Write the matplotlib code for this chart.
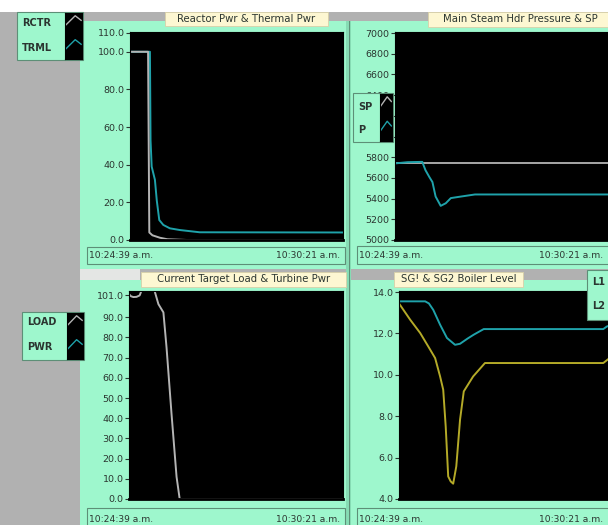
import numpy as np
import matplotlib.pyplot as plt
from matplotlib.patches import Rectangle

W, H = 608, 525

# time axis: seconds since 10:24:39 (span to 10:30:21)
t_labels = ['10:24:39 a.m.', '10:30:21 a.m.']
t_span = 342

# Reactor Pwr & Thermal Pwr (%)
rctr_t = [0, 29, 31, 36, 48, 60, 92, 342]
rctr_v = [100, 100, 4, 2.5, 1.2, 0.4, 0, 0]
trml_t = [0, 32, 33, 34.8, 40, 43, 47, 53.5, 64, 80, 112, 342]
trml_v = [100, 100, 53, 39, 32, 21, 10.6, 8, 6.2, 5.3, 4.1, 4.0]

# Main Steam Hdr Pressure & SP
sp_t = [0, 342]
sp_v = [5740, 5740]
p_t = [0, 20, 43, 48, 54, 59, 64, 72, 80, 88, 104, 126, 342]
p_v = [5740, 5752, 5755, 5675, 5610, 5560, 5420, 5330, 5355, 5405, 5420, 5440, 5440]

# Current Target Load & Turbine Pwr
load_t = [0, 3, 7, 12, 17, 21, 40, 47, 55, 60, 68, 76, 81, 342]
load_v = [101.5, 100.4, 100, 100.1, 100.8, 104, 104, 96.5, 92.4, 75, 42, 11, 0, 0]

# SG1 & SG2 Boiler Level
l1_t = [0, 42, 48, 55, 66, 77, 90, 98, 110, 120, 136, 328, 334, 342]
l1_v = [13.55, 13.55, 13.45, 13.14, 12.42, 11.78, 11.45, 11.5, 11.75, 11.94, 12.21, 12.21, 12.34, 12.4]
l2_t = [0, 18, 34, 47, 58, 66, 71, 75, 79, 83, 87, 92, 98, 104, 119, 138, 328, 342]
l2_v = [13.45, 12.66, 12.02, 11.37, 10.81, 9.92, 9.28, 7.5, 5.09, 4.85, 4.74, 5.58, 7.83, 9.2, 9.92,
        10.57, 10.57, 10.9]

MINT = '#9ef7cd'
GRAY = '#b1b1b1'
EDGE = '#5d8f77'
TXT = '#2b3530'
C_GRAY = '#b4b4b4'
C_CYAN = '#1fa2aa'
C_YEL = '#b4aa28'
TITLE_BG = '#fdf7d2'

fig = plt.figure(figsize=(W / 100, H / 100), dpi=100, facecolor=GRAY)


def box(x0, y0, x1, y1):
    return [x0 / W, 1 - y1 / H, (x1 - x0) / W, (y1 - y0) / H]


def rect(x0, y0, x1, y1, fc, ec='none', lw=0, z=-1):
    l, b, w, h = box(x0, y0, x1, y1)
    fig.add_artist(Rectangle((l, b), w, h, facecolor=fc, edgecolor=ec, linewidth=lw, zorder=z))


def text(x, y, s, size=7, ha='left', z=10, **kw):
    fig.text(x / W, 1 - y / H, s, fontsize=size, ha=ha, va='center', color=TXT, zorder=z, **kw)


# background layout
rect(0, 0, W, 12, 'white')
rect(80, 21, 346, 269, MINT)
rect(351, 21, W, 269, MINT)
rect(80, 280, 346, H, MINT)
rect(351, 280, W, H, MINT)
rect(80, 269, 140, 280, '#e4e6e4')
rect(346, 21, 351, H, '#86dcb4')
rect(349, 21, 350, H, EDGE)


def title(x0, y0, x1, y1, s):
    rect(x0, y0, x1, y1, TITLE_BG, ec='#d8d0a8', lw=0.6, z=3)
    text((x0 + x1) / 2, (y0 + y1) / 2, s, size=7.3, ha='center')


def time_box(x0, y0, x1, y1, right):
    rect(x0, y0, x1, y1, MINT, ec=EDGE, lw=0.8, z=3)
    text(x0 + 2, (y0 + y1) / 2, t_labels[0], size=6.6)
    text(right, (y0 + y1) / 2, t_labels[1], size=6.6, ha='right')


def legend(x0, y0, x1, y1, sw_x, names, colors, ys):
    rect(x0, y0, x1, y1, MINT, ec=EDGE, lw=0.8, z=5)
    for n, y in zip(names, ys):
        text(x0 + 5, y, n, size=7, fontweight='bold')
    if sw_x is None:
        return
    sw = fig.add_axes(box(sw_x, y0 + 1, x1 - 1, y1 - 1))
    sw.set_zorder(6)
    sw.set_facecolor('black')
    sw.set_xticks([])
    sw.set_yticks([])
    sw.set_xlim(0, 1)
    sw.set_ylim(0, 1)
    for c, base in zip(colors, [0.62, 0.1]):
        sw.plot([0.05, 0.6, 0.95], [base + 0.12, base + 0.32, base + 0.22], color=c, lw=1)


def setup(ax, ylim, ticks, fmt):
    ax.set_facecolor('black')
    ax.set_xlim(0, t_span)
    ax.set_ylim(*ylim)
    ax.set_xticks([])
    ax.set_yticks(ticks)
    ax.set_yticklabels([fmt % v for v in ticks])
    ax.tick_params(axis='y', length=3, width=0.8, color=TXT, labelsize=6.8,
                   labelcolor=TXT, pad=1)
    for s in ax.spines.values():
        s.set_color('black')
    ax.spines['bottom'].set_linewidth(2)


# top-left
ax1 = fig.add_axes(box(130, 32, 343, 240))
setup(ax1, (0, 110.5), [0, 20, 40, 60, 80, 100, 110], '%.1f')
ax1.plot(trml_t, trml_v, color=C_CYAN, lw=1.4)
ax1.plot(rctr_t, rctr_v, color=C_GRAY, lw=1.4)

# top-right
ax2 = fig.add_axes(box(395, 32, 612, 240))
setup(ax2, (5000, 7010), list(range(5000, 7001, 200)), '%d')
ax2.plot(sp_t, sp_v, color=C_GRAY, lw=1.3)
ax2.plot(p_t, p_v, color=C_CYAN, lw=1.4)

# bottom-left
ax3 = fig.add_axes(box(129, 291, 343, 499))
setup(ax3, (0, 103), [0, 10, 20, 30, 40, 50, 60, 70, 80, 90, 101], '%.1f')
ax3.plot(load_t, load_v, color=C_GRAY, lw=1.4)

# bottom-right
ax4 = fig.add_axes(box(399, 291, 612, 499))
setup(ax4, (4, 14.05), [4, 6, 8, 10, 12, 14], '%.1f')
ax4.plot(l1_t, l1_v, color=C_CYAN, lw=1.4)
ax4.plot(l2_t, l2_v, color=C_YEL, lw=1.4)

title(165, 12, 328, 26, 'Reactor Pwr & Thermal Pwr')
title(428, 12, 612, 27, 'Main Steam Hdr Pressure & SP')
title(141, 272, 346, 287, 'Current Target Load & Turbine Pwr')
title(394, 272, 523, 287, 'SG! & SG2 Boiler Level')

time_box(87, 247, 345, 264, 340)
time_box(357, 246, 612, 264, 603)
time_box(87, 508, 345, 530, 340)
time_box(357, 508, 612, 530, 603)

legend(17, 12, 83, 60, 65, ['RCTR', 'TRML'], [C_GRAY, C_CYAN], [23, 48])
legend(353, 93, 393, 142, 380, ['SP', 'P'], [C_GRAY, C_CYAN], [107, 130])
legend(22, 312, 84, 360, 67, ['LOAD', 'PWR'], [C_GRAY, C_CYAN], [322, 347])
legend(587, 270, 612, 320, None, ['L1', 'L2'], [C_CYAN, C_YEL], [282, 306])

fig.savefig('out.png', dpi=100, facecolor=GRAY)
